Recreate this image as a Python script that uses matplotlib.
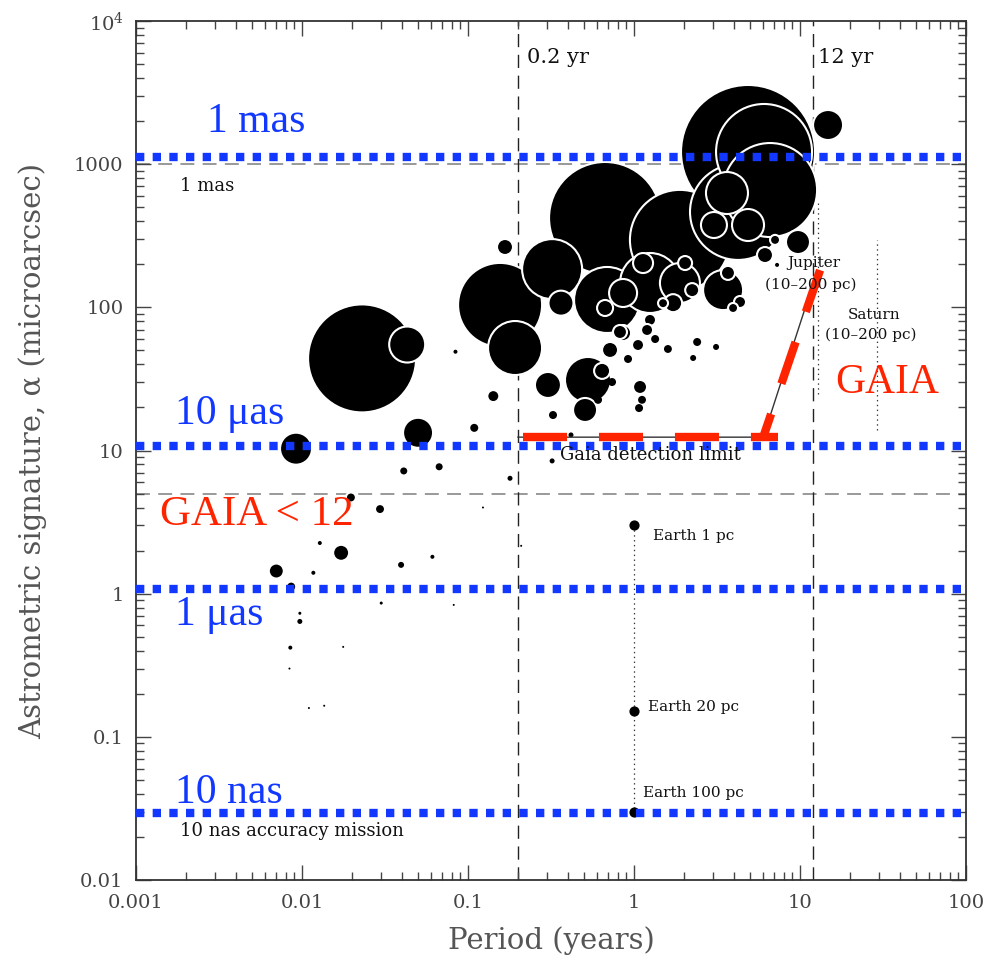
import numpy as np
import matplotlib
matplotlib.use("Agg")
import matplotlib.pyplot as plt

plt.rcParams['lines.scale_dashes'] = False
plt.rcParams['mathtext.fontset'] = 'dejavuserif'

############## data

# known planets: period (yr), astrometric signature (micro-arcsec), bubble radius (rel.)
period_yr = [0.023, 0.043, 0.084, 0.142, 0.050, 0.0092, 0.109, 0.041, 0.067, 0.0197,
             0.0295, 0.123, 0.0128, 0.0172, 0.0070, 0.0117, 0.0395, 0.061, 0.0086, 0.030,
             0.082, 0.0097, 0.0097, 0.0085, 0.0177, 0.0084, 0.011, 0.0136, 0.179, 0.209,
             4.86, 6.07, 14.75, 0.669, 6.60, 1.89, 4.23, 3.63, 3.03, 4.86,
             7.07, 9.72, 6.15, 7.27, 0.156, 0.192, 0.321, 0.363, 0.167, 0.303,
             0.528, 0.642, 0.717, 0.737, 0.607, 0.507, 0.325, 0.417, 0.321, 1.087,
             1.117, 1.072, 0.920, 1.057, 0.859, 0.688, 0.669, 1.133, 0.859, 1.248,
             1.495, 1.248, 1.198, 0.823, 2.40, 3.12, 2.27, 1.60, 1.34, 2.03,
             2.24, 1.72, 3.44, 3.68, 4.35, 3.95, 1.89]
alpha_uas = [44, 55, 49, 24, 13.3, 10.3, 14.4, 7.2, 7.7, 4.7,
             3.9, 4.0, 2.26, 1.93, 1.44, 1.40, 1.59, 1.81, 1.12, 0.86,
             0.835, 0.73, 0.64, 0.42, 0.425, 0.30, 0.159, 0.165, 6.4, 2.16,
             1217, 1217, 1878, 421, 660, 296, 464, 629, 376, 376,
             296, 286, 232, 198, 104, 52, 185, 107, 264, 28.7,
             31.1, 36.0, 50.4, 30.1, 22.6, 19.2, 17.7, 12.85, 8.46, 27.8,
             22.6, 19.8, 43.6, 54.6, 66.2, 112.6, 99, 204, 126, 148,
             107, 81.7, 69.5, 67.3, 57.3, 52.9, 44.3, 51.2, 60.1, 204,
             132, 107, 132, 174, 109, 99, 148]
bubble_r = [54, 18, 2, 6, 15, 16, 4, 3.5, 3.5, 5,
            5, 1, 2, 8, 7.5, 2, 3, 2, 4, 1.5,
            1, 1.5, 2.5, 2, 1, 1, 1, 1, 2.5, 1,
            67, 48, 15, 56, 47, 50, 48, 21, 13, 16,
            5, 12, 8, 2, 42, 27, 30, 12.5, 8, 13,
            23, 8, 8, 4, 4, 12, 4, 2.5, 2.5, 7,
            5, 4, 4, 6, 8, 33, 8, 10, 14, 30,
            5, 6, 6, 7, 4, 3, 3, 5, 4, 7,
            7, 9, 20, 7, 6, 5, 20]

# Earth at 1, 20, 100 pc
earth_alpha = [3.0, 0.152, 0.03]
earth_labels = ["Earth 1 pc", "Earth 20 pc", "Earth 100 pc"]

# Jupiter / Saturn seen from 10-200 pc
jupiter_P, jupiter_range = 12.8, [25, 560]
saturn_P, saturn_range = 29.1, [13.9, 295]

# reference levels
accuracy_lines = [1120, 10.8, 1.08, 0.0295]      # blue dotted
accuracy_labels = ["1 mas", "10 μas", "1 μas", "10 nas"]
label_alpha = [1971, 18.0, 0.711, 0.0407]
grey_levels = [1000, 5]
period_lims = [0.2, 12]

# Gaia limit (red dashed)
gaia_flat_P = [0.214, 7.4]
gaia_flat_a = [12.4, 12.4]
gaia_rise_P = [13.2, 6.0]
gaia_rise_a = [182, 12.4]
gaia_thin_P = [0.2, 6.0, 12.6]
gaia_thin_a = [12.4, 12.4, 175]

xticks = [0.001, 0.01, 0.1, 1, 10, 100]
xticklabels = ["0.001", "0.01", "0.1", "1", "10", "100"]
yticks = [0.01, 0.1, 1, 10, 100, 1000, 10000]
yticklabels = ["0.01", "0.1", "1", "10", "100", "1000", "$10^4$"]

blue = '#1238ff'
red = '#ff2400'
serif_big = 'Liberation Serif'
pg = 'DejaVu Serif'

############## plot

fig = plt.figure(figsize=(9.9, 9.6), dpi=100)
ax = fig.add_axes([0.1374, 0.0833, 0.8384, 0.8948])
ax.set_xscale('log')
ax.set_yscale('log')
ax.set_xlim(0.001, 100)
ax.set_ylim(0.01, 10000)

# grey dashed levels and period limits
for g in grey_levels:
    ax.axhline(g, color='#888888', lw=1.2, linestyle=(0, (10, 6)), zorder=1)
for p in period_lims:
    ax.axvline(p, color='#222222', lw=1.0, linestyle=(0, (9.5, 5.5)), zorder=1)

# bubbles, biggest first so smaller ones sit on top
order = np.argsort(bubble_r)[::-1]
P = np.array(period_yr)[order]
A = np.array(alpha_uas)[order]
R = np.array(bubble_r)[order]
sizes = (1.44 * R) ** 2
lws = np.where(R >= 4.5, 1.5, 0.0)
ax.scatter(P, A, s=sizes, c='black', edgecolors='white', linewidths=lws, zorder=3)

# Jupiter & Saturn
ax.plot([jupiter_P, jupiter_P], jupiter_range, color='#333333', lw=0.9, linestyle=(0, (1, 2.5)), zorder=2)
ax.plot([saturn_P, saturn_P], saturn_range, color='#333333', lw=0.9, linestyle=(0, (1, 2.5)), zorder=2)

# Earth
ax.plot([1, 1], [earth_alpha[0], earth_alpha[-1]], color='#333333', lw=0.9, linestyle=(0, (1, 2.5)), zorder=2)
ax.scatter([1, 1, 1], earth_alpha, s=40, c='black', zorder=4)

# thin original detection limit
ax.plot(gaia_thin_P, gaia_thin_a, color='#333333', lw=1.0, zorder=4)

# blue accuracy levels
for y in accuracy_lines:
    ax.axhline(y, color=blue, lw=6, linestyle=(0, (6, 6)), dash_capstyle='butt', zorder=5)

# red Gaia limit
ax.plot(gaia_flat_P, gaia_flat_a, color=red, lw=6, linestyle=(0, (31.7, 23)),
        dash_capstyle='butt', zorder=6)
ax.plot(gaia_rise_P, gaia_rise_a, color=red, lw=6, linestyle=(0, (31.7, 23)),
        dash_capstyle='butt', zorder=6)

# black annotation text
small = dict(family=pg, fontsize=13, color='#111111', va='center', ha='left', zorder=7)
ax.text(0.00184, 705, "1 mas", **small)
ax.text(0.00184, 0.0221, "10 nas accuracy mission", **small)
ax.text(0.2266, 5520, "0.2 yr", family=pg, fontsize=15, color='#111111', va='center', zorder=7)
ax.text(12.9, 5520, "12 yr", family=pg, fontsize=15, color='#111111', va='center', zorder=7)
ax.text(0.358, 9.3, "Gaia detection limit", **small)
ax.text(8.35, 204, "Jupiter", family=pg, fontsize=11, color='#111111', va='center', zorder=7)
ax.text(6.15, 143, "(10–200 pc)", family=pg, fontsize=11, color='#111111', va='center', zorder=7)
ax.text(19.5, 88.5, "Saturn", family=pg, fontsize=11, color='#111111', va='center', zorder=7)
ax.text(14.1, 64.1, "(10–200 pc)", family=pg, fontsize=11, color='#111111', va='center', zorder=7)
earth_text_pos = [(1.30, 2.53), (1.21, 0.162), (1.13, 0.0407)]
for (tx, ty), lab in zip(earth_text_pos, earth_labels):
    ax.text(tx, ty, lab, family=pg, fontsize=11, color='#111111', va='center', zorder=7)

# blue / red overlay labels
label_P = [0.002677, 0.001718, 0.001718, 0.001718]
for lx, ly, lab in zip(label_P, label_alpha, accuracy_labels):
    ax.text(lx, ly, lab, family=serif_big, fontsize=30, color=blue, va='center', ha='left', zorder=8)
ax.text(16.25, 29.6, "GAIA", family=serif_big, fontsize=30, color=red, va='center', ha='left', zorder=8)
ax.text(0.001395, 3.55, "GAIA < 12", family=serif_big, fontsize=31, color=red, va='center', ha='left', zorder=8)

# axes cosmetics
ax.set_xticks(xticks)
ax.set_xticklabels(xticklabels)
ax.set_yticks(yticks)
ax.set_yticklabels(yticklabels)
ax.tick_params(which='both', direction='in', top=True, right=True, colors='#444444', width=1.0)
ax.tick_params(which='major', length=11)
ax.tick_params(which='minor', length=6)
ax.tick_params(axis='x', which='major', pad=10, labelsize=14)
ax.tick_params(axis='y', which='major', pad=9, labelsize=14)
for lab in ax.get_xticklabels() + ax.get_yticklabels():
    lab.set_family(pg)
for sp in ax.spines.values():
    sp.set_color('#333333')
    sp.set_linewidth(1.3)

ax.set_xlabel("Period (years)", family=pg, fontsize=21, color='#555555', va='center')
ax.set_ylabel("Astrometric signature, α (microarcsec)", family=pg, fontsize=21,
              color='#555555', va='center')
ax.xaxis.set_label_coords(0.501, -0.07)
ax.yaxis.set_label_coords(-0.125, 0.4994)

fig.savefig("out.png", dpi=100)
